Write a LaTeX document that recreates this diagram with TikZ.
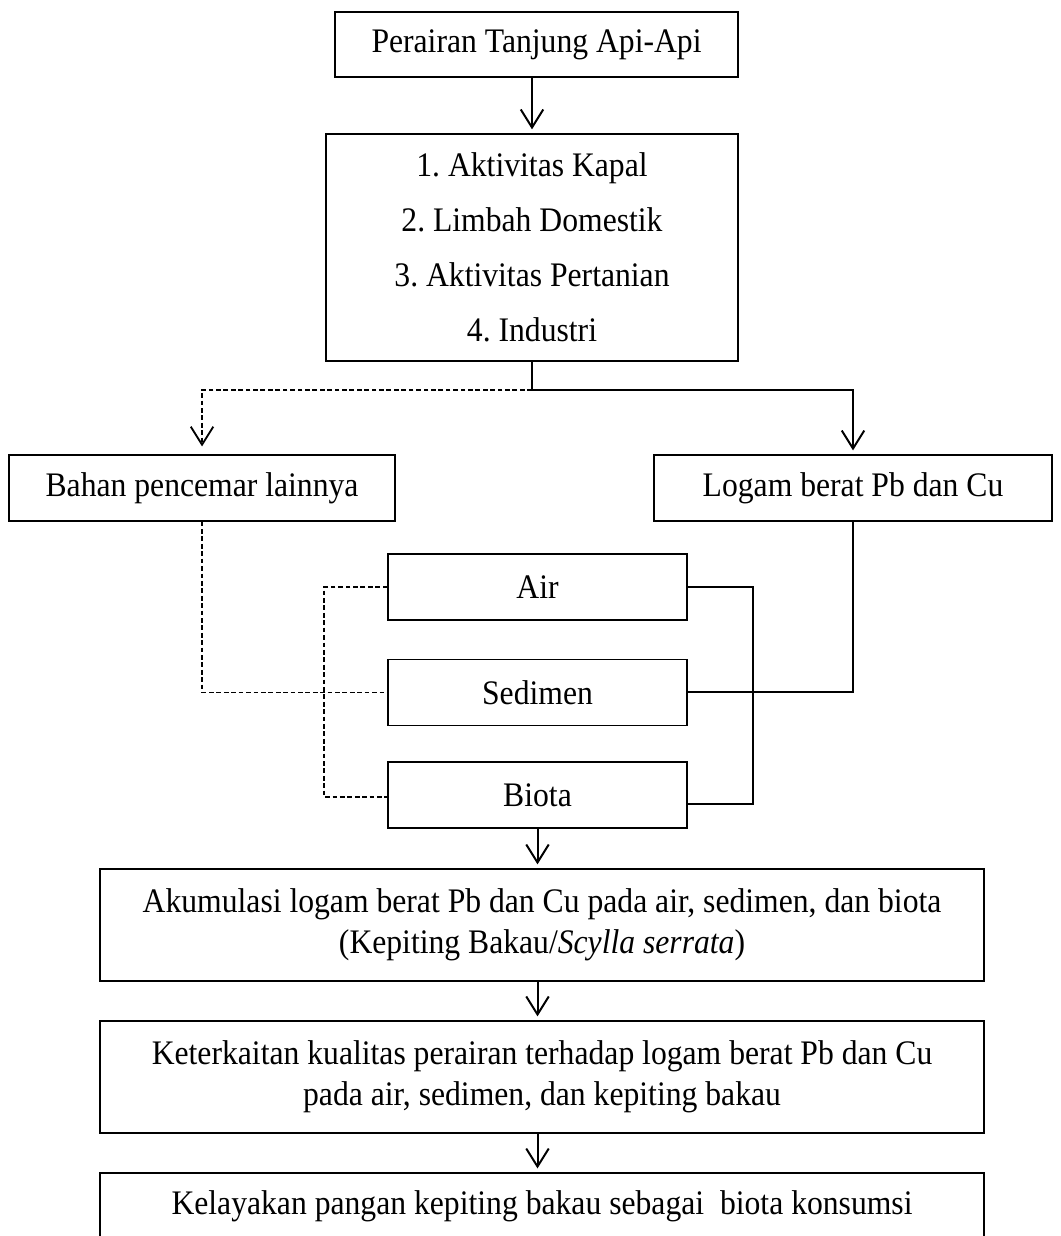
\documentclass[tikz,border=0pt]{standalone}
\usepackage{fontspec}
\setmainfont{Liberation Serif}[FakeStretch=0.92]
\usepackage{tikz}
\usetikzlibrary{arrows.meta}

\tikzset{
	box/.style={rectangle,draw,line width=0.5pt,inner sep=0pt,minimum height=0.876cm,align=center,font=\fontsize{13}{14.4}\selectfont},
	link/.style={line width=0.75pt},
	dashlink/.style={line width=0.7pt,dash pattern=on 1.8pt off 1pt},
	flow/.style={line width=0.75pt,-{Straight Barb[length=6.8pt,width=8.5pt]},shorten >=1.5pt}
}

\begin{document}
\frenchspacing
\begin{tikzpicture}
		\clip (0,0) rectangle (14.077,16.414);
%		\draw[help lines] (0,0) grid (14,16);
		\path (7.125,15.823) node(perairan) [box,minimum width=5.352cm,minimum height=0.863cm] {Perairan Tanjung Api-Api};
		\path (7.065,13.127) node(sumber) [box,minimum width=5.471cm,minimum height=3.015cm,font=\fontsize{13}{20.8}\selectfont]
			{1. Aktivitas Kapal\\2. Limbah Domestik\\3. Aktivitas Pertanian\\4. Industri};
		\path (2.683,9.933) node(bahan) [box,minimum width=5.126cm] {Bahan pencemar lainnya};
		\path (11.328,9.933) node(logam) [box,minimum width=5.285cm] {Logam berat Pb dan Cu};
		\path (7.138,8.619) node(air) [box,minimum width=3.971cm] {Air};
		\path (7.138,7.218) node(sedimen) [box,minimum width=3.971cm] {Sedimen};
		\path (7.138,5.856) node(biota) [box,minimum width=3.971cm] {Biota};
		\path (7.198,4.130) node(akumulasi) [box,minimum width=11.740cm,minimum height=1.487cm,font=\fontsize{13}{15.3}\selectfont]
			{Akumulasi logam berat Pb dan Cu pada air, sedimen, dan biota\\(Kepiting Bakau/\textit{Scylla serrata})};
		\path (7.198,2.112) node(keterkaitan) [box,minimum width=11.740cm,minimum height=1.487cm,font=\fontsize{13}{15.5}\selectfont]
			{Keterkaitan kualitas perairan terhadap logam berat Pb dan Cu\\pada air, sedimen, dan kepiting bakau};
		\path (7.198,0.398) node(kelayakan) [box,minimum width=11.740cm] {Kelayakan pangan kepiting bakau sebagai\ \ biota konsumsi};
		\path (sumber.south) +(0,-0.372) coordinate (cabang);

		\draw[flow] (perairan.south -| sumber.south) -- (sumber.north);
		\draw[link] (sumber.south) -- (cabang);
		\draw[flow] (cabang) -| (logam.north);
		\draw[dashlink,-{Straight Barb[length=6.8pt,width=8.5pt]},shorten >=3pt] (cabang) -| (bahan.north);
		\draw[dashlink] (bahan.south) |- (sedimen.west);
		\draw[dashlink] (air.west) -- ++(-0.837,0) |- ([yshift=-0.03cm]biota.west);
		\draw[link] (air.east) -- ++(0.863,0) |- ([yshift=-0.12cm]biota.east);
		\draw[link] ([xshift=0.863cm]air.east) -- ++(0,-2.9);
		\draw[link] (sedimen.east) -| (logam.south);
		\draw[flow] (biota.south) -- (biota.south |- akumulasi.north);
		\draw[flow] (biota.south |- akumulasi.south) -- (biota.south |- keterkaitan.north);
		\draw[flow] (biota.south |- keterkaitan.south) -- (biota.south |- kelayakan.north);
	\end{tikzpicture}
\end{document}
